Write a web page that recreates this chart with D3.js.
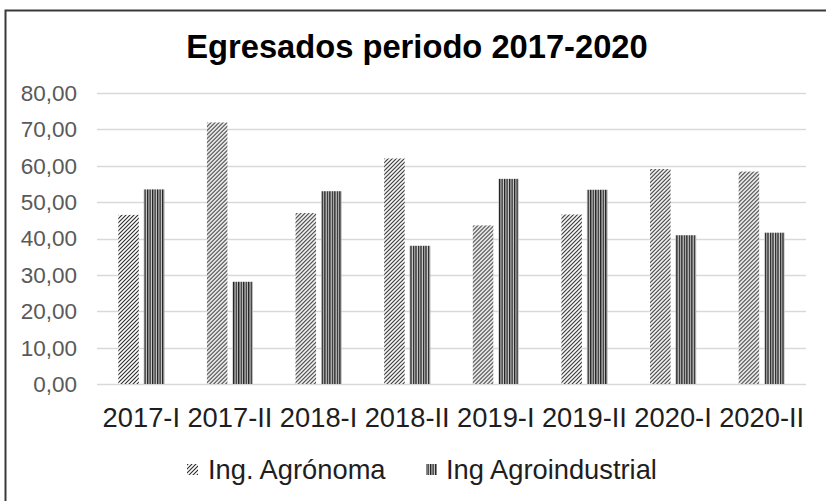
<!DOCTYPE html>
<html>
<head>
<meta charset="utf-8">
<script src="https://cdn.jsdelivr.net/npm/d3@7"></script>
<style>
  html, body { margin: 0; padding: 0; background: #fff; }
  svg { display: block; font-family: "Liberation Sans", Arial, sans-serif; }
</style>
</head>
<body>
<svg id="chart" width="826" height="501"></svg>
<script>
const categories = ["2017-I", "2017-II", "2018-I", "2018-II", "2019-I", "2019-II", "2020-I", "2020-II"];
const seriesNames = ["Ing. Agrónoma", "Ing Agroindustrial"];
const agronoma = [46.5, 71.9, 47.0, 62.0, 43.6, 46.6, 59.1, 58.4];
const agroindustrial = [53.5, 28.1, 53.0, 38.0, 56.4, 53.4, 40.9, 41.6];
const yTicks = [0, 10, 20, 30, 40, 50, 60, 70, 80];
const title = "Egresados periodo 2017-2020";

(function () {
const svg = d3.select("#chart");
const W = 826, H = 501;

// frame (left + top border)
svg.append("rect").attr("width", W).attr("height", H).attr("fill", "#fff");
svg.append("path").attr("d", `M5.5,${H} L5.5,10.5 L${W},10.5`)
  .attr("fill", "none").attr("stroke", "#3a3a3a").attr("stroke-width", 2);

// patterns
const defs = svg.append("defs");
const pd = defs.append("pattern").attr("id", "pDiag").attr("patternUnits", "userSpaceOnUse")
  .attr("width", 4).attr("height", 4);
pd.append("rect").attr("width", 4).attr("height", 4).attr("fill", "#fff");
pd.append("path").attr("d", "M-1,1 L1,-1 M0,4 L4,0 M3,5 L5,3")
  .attr("stroke", "#2b2b2b").attr("stroke-width", 1.1);
const pv = defs.append("pattern").attr("id", "pVert").attr("patternUnits", "userSpaceOnUse")
  .attr("width", 2.5).attr("height", 4);
pv.append("rect").attr("width", 2.5).attr("height", 4).attr("fill", "#d0d0d0");
pv.append("rect").attr("width", 1.3).attr("height", 4).attr("fill", "#1e1e1e");

const fills = ["url(#pDiag)", "url(#pVert)"];

const plotL = 97, plotR = 806, plotT = 93, plotB = 384;
const x = d3.scaleBand().domain(categories).range([plotL, plotR]).paddingInner(0).paddingOuter(0);
const x1 = d3.scaleBand().domain(seriesNames).range([0, x.bandwidth()])
  .paddingInner(0.196).paddingOuter(0.835);
const y = d3.scaleLinear().domain([0, 80]).range([plotB, plotT]);

// gridlines
svg.append("g").selectAll("line").data(yTicks).join("line")
  .attr("x1", plotL).attr("x2", plotR)
  .attr("y1", d => Math.round(y(d)) + 0.5).attr("y2", d => Math.round(y(d)) + 0.5)
  .attr("stroke", "#d9d9d9").attr("stroke-width", 1.5);

// y tick labels
const fmt = v => d3.format(".2f")(v).replace(".", ",");
svg.append("g").selectAll("text").data(yTicks).join("text")
  .attr("x", 77).attr("y", d => y(d)).attr("dy", "0.35em")
  .attr("text-anchor", "end").attr("font-size", 22.5).attr("fill", "#595959")
  .text(d => fmt(d));

// bars
const data = categories.map((c, i) => ({ cat: c, vals: [agronoma[i], agroindustrial[i]] }));
const groups = svg.append("g").selectAll("g").data(data).join("g")
  .attr("transform", d => `translate(${x(d.cat)},0)`);
groups.selectAll("rect").data(d => d.vals.map((v, j) => ({ v, j, name: seriesNames[j] }))).join("rect")
  .attr("x", d => x1(d.name)).attr("width", x1.bandwidth())
  .attr("y", d => y(d.v)).attr("height", d => y(0) - y(d.v))
  .attr("fill", d => fills[d.j]);

// x labels
svg.append("g").selectAll("text").data(categories).join("text")
  .attr("x", d => x(d) + x.bandwidth() / 2).attr("y", 426.5)
  .attr("text-anchor", "middle").attr("font-size", 27.3).attr("fill", "#1e1e1e")
  .text(d => d);

// title
svg.append("text").attr("x", 417).attr("y", 58).attr("text-anchor", "middle")
  .attr("font-size", 32.7).attr("font-weight", "bold").attr("fill", "#000").text(title);

// legend
const legendPos = [{ mx: 187, tx: 208 }, { mx: 426, tx: 446 }];
const lg = svg.append("g").selectAll("g").data(seriesNames).join("g");
lg.append("rect").attr("x", (d, i) => legendPos[i].mx).attr("y", 464)
  .attr("width", 11).attr("height", 11).attr("fill", (d, i) => fills[i]);
lg.append("text").attr("x", (d, i) => legendPos[i].tx).attr("y", 479)
  .attr("font-size", 27.3).attr("fill", "#1e1e1e").text(d => d);
})();
</script>
</body>
</html>
